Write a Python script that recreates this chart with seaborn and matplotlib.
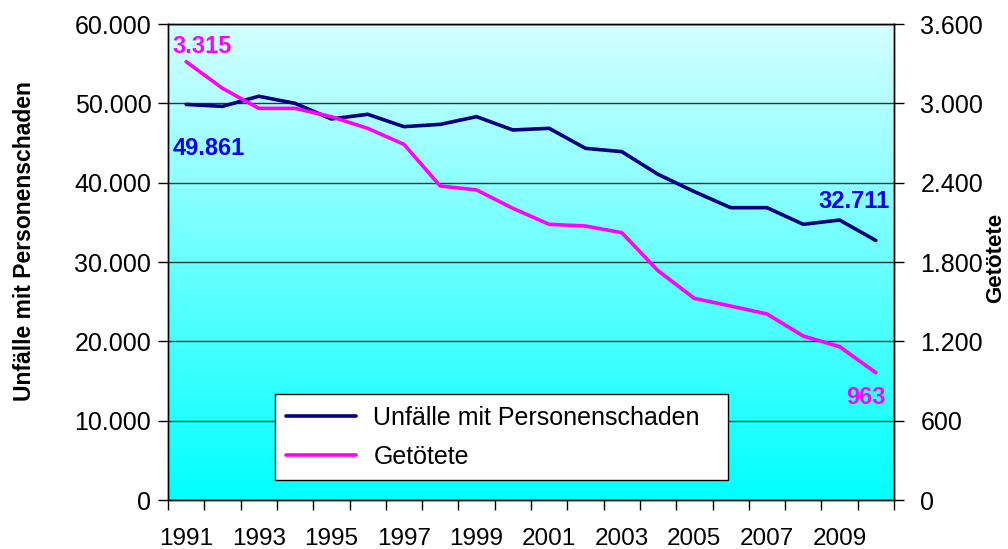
import numpy as np
import pandas as pd
import seaborn as sns
import matplotlib
matplotlib.use("Agg")
import matplotlib.pyplot as plt
from matplotlib.colors import LinearSegmentedColormap
from matplotlib.ticker import FuncFormatter, MultipleLocator

# Daten
years = list(range(1991, 2011))
unfaelle = [49861, 49620, 50890, 50000, 48030, 48620, 47060, 47350, 48320, 46640,
            46850, 44330, 43910, 41050, 38870, 36850, 36850, 34750, 35290, 32711]
getoetete = [3315, 3114, 2962, 2962, 2899, 2811, 2690, 2375, 2345, 2206,
             2085, 2072, 2022, 1734, 1525, 1467, 1407, 1240, 1160, 963]
year_labels = [str(y) for y in years[::2]]

df = pd.DataFrame({"Jahr": years, "Unfälle": unfaelle, "Getötete": getoetete})

sns.set_style("white")
plt.rcParams['font.family'] = ['Liberation Sans', 'DejaVu Sans']
plt.rcParams['text.color'] = 'black'
plt.rcParams['xtick.color'] = 'black'
plt.rcParams['ytick.color'] = 'black'
plt.rcParams['axes.labelcolor'] = 'black'

def de_fmt(v, pos=None):
    return f"{int(round(v)):,}".replace(",", ".")

fig = plt.figure(figsize=(10.08, 5.49), dpi=100)
ax = fig.add_axes([168 / 1008, 49 / 549, 726 / 1008, 476 / 549])

# Hintergrundverlauf
cmap = LinearSegmentedColormap.from_list("bg", ["#00FFFF", "#D4FFFF"])
grad = np.linspace(0, 1, 256).reshape(-1, 1)
ax.imshow(grad, extent=[0, 1, 0, 1], transform=ax.transAxes, cmap=cmap,
          origin="lower", aspect="auto", zorder=0)

sns.lineplot(data=df, x="Jahr", y="Unfälle", ax=ax, color="#000080", linewidth=2.6,
             label="Unfälle mit Personenschaden", legend=False, zorder=3)
ax2 = ax.twinx()
sns.lineplot(data=df, x="Jahr", y="Getötete", ax=ax2, color="#FF00FF", linewidth=2.6,
             label="Getötete", legend=False, zorder=3)

ax.set_xlim(1990.5, 2010.5)
ax.set_ylim(0, 60000)
ax2.set_ylim(0, 3600)
ax.yaxis.set_major_locator(MultipleLocator(10000))
ax2.yaxis.set_major_locator(MultipleLocator(600))
ax.yaxis.set_major_formatter(FuncFormatter(de_fmt))
ax2.yaxis.set_major_formatter(FuncFormatter(de_fmt))

ax.set_xticks(years[::2])
ax.set_xticklabels(year_labels)
ax.set_xticks(np.arange(1990.5, 2011, 1), minor=True)
ax.tick_params(axis="x", which="major", length=0, pad=20, labelsize=17.5)
ax.tick_params(axis="x", which="minor", length=7, width=1, color="black", direction="out", bottom=True)
ax.tick_params(axis="y", which="major", length=7, width=1, color="black", direction="out",
               left=True, pad=5, labelsize=18)
ax2.tick_params(axis="y", which="major", length=7, width=1, color="black", direction="out",
                right=True, pad=12, labelsize=18)

ax.grid(axis="y", color="#333333", linewidth=1)
ax.grid(axis="x", visible=False)
ax.set_axisbelow(False)
for a in (ax, ax2):
    for s in a.spines.values():
        s.set_color("black")
        s.set_linewidth(1)
ax.set_xlabel("")
ax.set_ylabel("")
ax2.set_ylabel("")

# Beschriftungen der Endwerte
ax2.annotate(de_fmt(getoetete[0]), (years[0], getoetete[0]), xytext=(-10, 11),
             textcoords="offset points", ha="left", va="center", color="#FF00FF",
             fontsize=17, fontweight="bold")
ax.annotate(de_fmt(unfaelle[0]), (years[0], unfaelle[0]), xytext=(-10, -32),
            textcoords="offset points", ha="left", va="center", color="#0000FF",
            fontsize=17, fontweight="bold")
ax.annotate(de_fmt(unfaelle[-1]), (years[-1], unfaelle[-1]), xytext=(10, 28),
            textcoords="offset points", ha="right", va="center", color="#0000FF",
            fontsize=17, fontweight="bold")
ax2.annotate(de_fmt(getoetete[-1]), (years[-1], getoetete[-1]), xytext=(7, -18),
             textcoords="offset points", ha="right", va="center", color="#FF00FF",
             fontsize=17, fontweight="bold")

fig.text(25 / 1008, 1 - 241 / 549, "Unfälle mit Personenschaden", rotation=90,
         ha="center", va="center", fontsize=16.5, fontweight="bold")
fig.text(996 / 1008, 1 - 258 / 549, "Getötete", rotation=90,
         ha="center", va="center", fontsize=16, fontweight="bold")

h1, l1 = ax.get_legend_handles_labels()
h2, l2 = ax2.get_legend_handles_labels()
leg = ax2.legend(h1 + h2, l1 + l2, loc="upper left", bbox_to_anchor=(0.147, 0.222, 0.624, 0.0),
                 mode="expand", fontsize=18, frameon=True, fancybox=False, shadow=False,
                 borderpad=0.45, labelspacing=0.6, handlelength=2.8, handletextpad=0.7,
                 borderaxespad=0)
leg.get_frame().set_edgecolor("black")
leg.get_frame().set_facecolor("white")
leg.get_frame().set_alpha(1)
leg.get_frame().set_linewidth(1)

fig.savefig("out.png", dpi=100)
